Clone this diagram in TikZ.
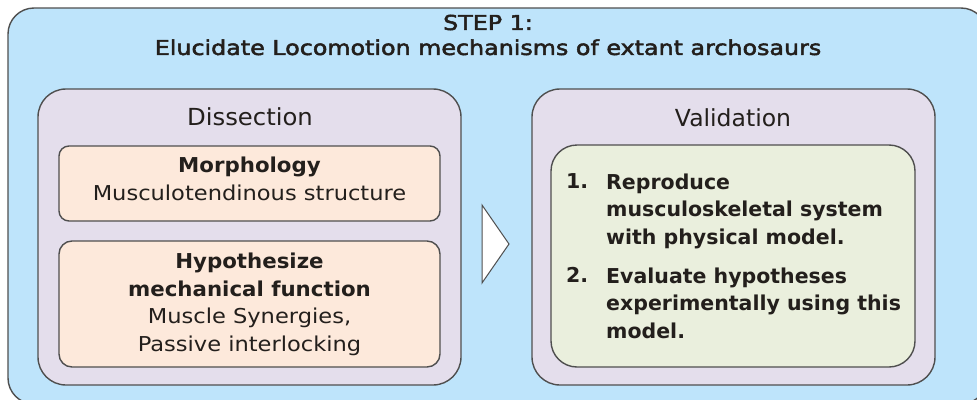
\documentclass[tikz,border=0pt]{standalone}
\usepackage{fontspec}
\setmainfont{DejaVu Sans}
\newfontfamily\bodyfont[FakeStretch=1.1]{DejaVu Sans}
\newfontfamily\titlefont[FakeStretch=1.16,FakeBold=2.5]{DejaVu Sans}
\newfontfamily\headfont[FakeStretch=1.0]{DejaVu Sans}
\newfontfamily\headwidefont[FakeStretch=1.035]{DejaVu Sans}
\newfontfamily\boldfont[FakeStretch=1.04]{DejaVu Sans Bold}
\definecolor{outerfill}{HTML}{BEE4FB}
\definecolor{panelfill}{HTML}{E4DEEC}
\definecolor{peach}{HTML}{FDE9DB}
\definecolor{greenfill}{HTML}{EAEFDD}
\definecolor{edge}{HTML}{4F4F4F}
\definecolor{ink}{HTML}{231F1C}
\tikzset{
  box/.style={draw=edge, line width=1.4pt},
  txt/.style={text=ink, inner sep=0pt, align=center, font=\bodyfont\fontsize{20.5}{27.5}\selectfont},
  ttxt/.style={txt, font=\titlefont\fontsize{20.5}{25}\selectfont},
  htxt/.style={txt, font=\headfont\fontsize{23.5}{27.5}\selectfont},
  btxt/.style={txt, font=\fontsize{20.5}{27.5}\selectfont\bfseries},
}
\begin{document}
\begin{tikzpicture}[x=1pt,y=-1pt]
\useasboundingbox (0,0) rectangle (977,399);
% outer
\draw[box, fill=outerfill, rounded corners=26pt] (8,8) rectangle (987,404);
\node[ttxt] (title) at (488,35) {STEP 1:\\Elucidate Locomotion mechanisms of extant archosaurs};
% dissection panel
\draw[box, fill=panelfill, rounded corners=28pt] (38,89) rectangle (461,385);
\node[htxt, font=\headwidefont\fontsize{23.5}{27.5}\selectfont] (diss) at (250,117) {Dissection};
\draw[box, fill=peach, rounded corners=10pt] (59,146) rectangle (440,221);
\node[txt] (morph) at (249.5,179) {{\boldfont Morphology}\\Musculotendinous structure};
\draw[box, fill=peach, rounded corners=13pt] (59,241) rectangle (440,367);
\node[txt] (hyp) at (249.5,304.5) {{\boldfont Hypothesize}\\{\boldfont mechanical function}\\Muscle Synergies,\\Passive interlocking};
% arrow
\draw[draw=edge, line width=1pt, fill=white, line join=miter] (482,205) -- (509,244) -- (482,283) -- cycle;
% validation panel
\draw[box, fill=panelfill, rounded corners=28pt] (532,89) rectangle (935,385);
\node[htxt] (val) at (733,118) {Validation};
\draw[box, fill=greenfill, rounded corners=26pt] (551,145) rectangle (915,367);
\node[btxt, anchor=north west, align=left] (n1) at (566,173.5) {1.};
\node[btxt, anchor=north west, align=left] (i1) at (606,173.5) {Reproduce\\musculoskeletal system\\with physical model.};
\node[btxt, anchor=north west, align=left] (n2) at (566,267.5) {2.};
\node[btxt, anchor=north west, align=left] (i2) at (606,267.5) {Evaluate hypotheses\\experimentally using this\\model.};
\end{tikzpicture}
\end{document}
